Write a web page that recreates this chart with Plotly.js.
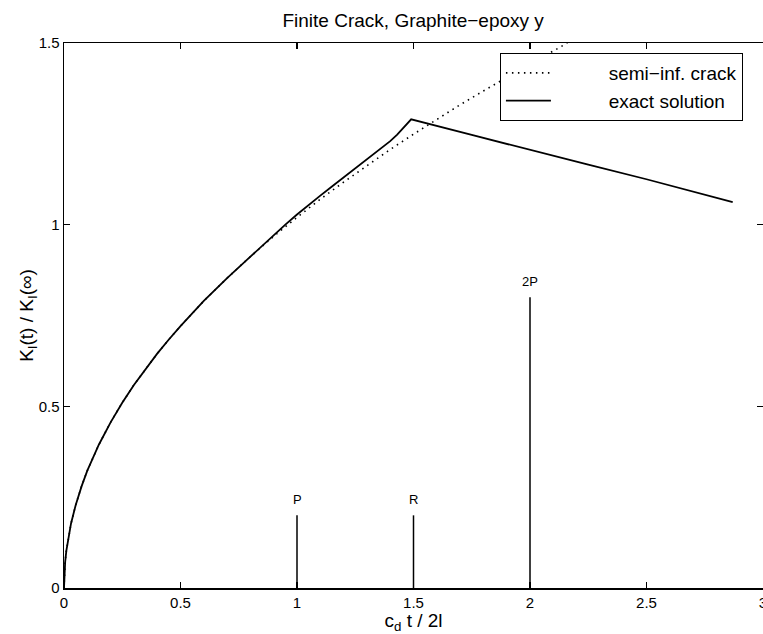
<!DOCTYPE html>
<html>
<head>
<meta charset="utf-8">
<script src="https://cdn.plot.ly/plotly-3.0.1.min.js"></script>
<style>html,body{margin:0;padding:0;background:#fff;}#chart{width:763px;height:634px;}</style>
</head>
<body>
<div id="chart"></div>
<script>
// Semi-infinite crack (dotted)
const semiX = [0, 0.002, 0.005, 0.01, 0.02, 0.03, 0.05, 0.075, 0.1, 0.125, 0.15, 0.2, 0.25, 0.3, 0.35, 0.4, 0.45, 0.5, 0.6, 0.7, 0.8, 0.9, 1.0, 1.1, 1.2, 1.3, 1.4, 1.5, 1.6, 1.7, 1.8, 1.9, 2.0, 2.1, 2.16];
const semiY = [0, 0.046, 0.072, 0.102, 0.144, 0.177, 0.228, 0.279, 0.323, 0.361, 0.395, 0.456, 0.51, 0.559, 0.603, 0.645, 0.684, 0.721, 0.79, 0.853, 0.912, 0.968, 1.02, 1.07, 1.117, 1.163, 1.207, 1.249, 1.29, 1.33, 1.368, 1.406, 1.442, 1.478, 1.5];
// Exact solution (solid)
const exactX = [0, 0.002, 0.005, 0.01, 0.02, 0.03, 0.05, 0.075, 0.1, 0.125, 0.15, 0.2, 0.25, 0.3, 0.35, 0.4, 0.45, 0.5, 0.6, 0.7, 0.8, 0.85, 0.9, 0.95, 1.0, 1.05, 1.1, 1.15, 1.2, 1.25, 1.3, 1.35, 1.4, 1.43, 1.46, 1.48, 1.49, 1.75, 2.0, 2.25, 2.5, 2.75, 2.87];
const exactY = [0, 0.046, 0.072, 0.102, 0.144, 0.177, 0.228, 0.279, 0.323, 0.361, 0.395, 0.456, 0.51, 0.559, 0.603, 0.645, 0.684, 0.721, 0.79, 0.853, 0.912, 0.942, 0.972, 1.0, 1.028, 1.055, 1.08, 1.105, 1.13, 1.155, 1.18, 1.205, 1.23, 1.248, 1.268, 1.283, 1.29, 1.247, 1.205, 1.165, 1.125, 1.083, 1.062];
// Wave arrival markers
const stemX = [1, 1.5, 2];
const stemH = [0.2, 0.2, 0.8];
const stemLabels = ['P', 'R', '2P'];
const xTicks = [0, 0.5, 1, 1.5, 2, 2.5, 3];
const yTicks = [0, 0.5, 1, 1.5];

const sx = [], sy = [];
stemX.forEach((x, i) => { sx.push(x, x, null); sy.push(0, stemH[i], null); });

const font = 'Liberation Sans, Arial, sans-serif';
const pad = '\u00a0'.repeat(10);
const traces = [
  {x: semiX, y: semiY, mode: 'lines', name: pad + 'semi\u2212inf. crack',
   line: {color: '#000', width: 1.6, dash: '1.5px,4.5px'}},
  {x: exactX, y: exactY, mode: 'lines', name: pad + 'exact solution',
   line: {color: '#000', width: 1.8}},
  {x: sx, y: sy, mode: 'lines', showlegend: false, hoverinfo: 'skip',
   line: {color: '#000', width: 1.5}}
];

const annotations = stemX.map((x, i) => ({
  x: x, y: stemH[i], xref: 'x', yref: 'y', text: stemLabels[i], showarrow: false,
  yanchor: 'bottom', xanchor: 'center', yshift: 6,
  font: {family: font, size: 13, color: '#000'}
}));

const axisCommon = {
  showline: true, linecolor: '#000', linewidth: 1.5, mirror: 'ticks',
  ticks: 'inside', ticklen: 6, tickwidth: 1.2, tickcolor: '#000',
  showgrid: false, zeroline: false, ticklabeloverflow: 'allow',
  tickfont: {family: font, size: 15, color: '#000'}
};

const layout = {
  width: 763, height: 634,
  margin: {l: 64, r: 0, t: 43, b: 46},
  paper_bgcolor: '#fff', plot_bgcolor: '#fff',
  title: {text: 'Finite Crack, Graphite\u2212epoxy y', font: {family: font, size: 19, color: '#000'},
          x: 0.5415, xanchor: 'center', y: 0.968, yanchor: 'middle'},
  xaxis: Object.assign({}, axisCommon, {
    range: [0, 3], tickvals: xTicks, ticktext: xTicks.map(String),
    title: {text: 'c<sub>d</sub> t / 2l', font: {family: font, size: 19, color: '#000'}, standoff: 2}
  }),
  yaxis: Object.assign({}, axisCommon, {
    range: [0, 1.5], tickvals: yTicks, ticktext: yTicks.map(String),
    title: {text: 'K<sub>I</sub>(t) / K<sub>I</sub>(\u221e)', font: {family: font, size: 19, color: '#000'}, standoff: 0}
  }),
  legend: {x: 0.971, xanchor: 'right', y: 0.982, yanchor: 'top',
    bgcolor: '#fff', bordercolor: '#000', borderwidth: 1.2,
    itemwidth: 45, tracegroupgap: 0,
    font: {family: font, size: 19, color: '#000'}},
  annotations: annotations,
  showlegend: true
};

Plotly.newPlot('chart', traces, layout, {displayModeBar: false, staticPlot: true});
</script>
</body>
</html>
